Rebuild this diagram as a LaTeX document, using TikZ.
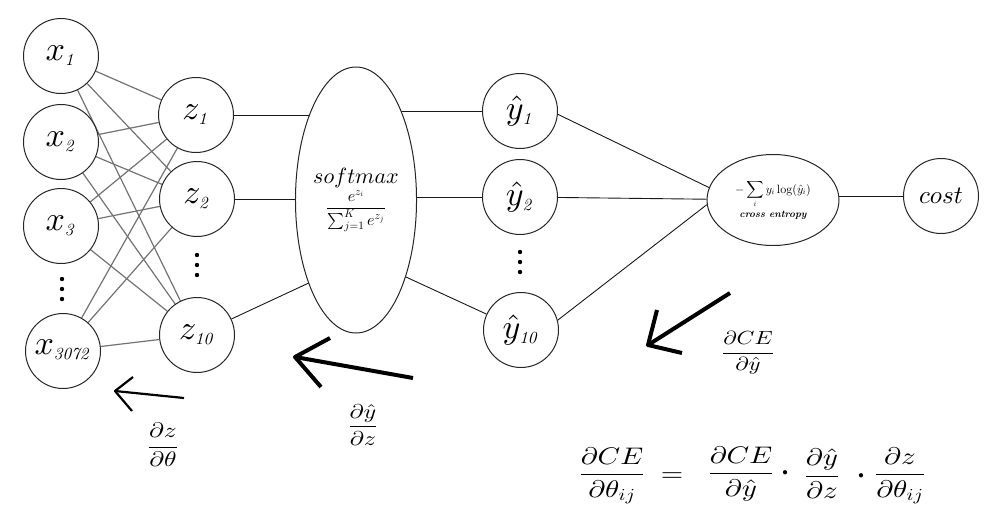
\RequirePackage{fix-cm}
\documentclass[tikz,border=0pt]{standalone}
\usepackage{amsmath}
\DeclareFontShape{OML}{cmm}{m}{it}{<->cmmi10}{}
\DeclareFontShape{OML}{cmm}{b}{it}{<->cmmib10}{}
\DeclareFontShape{OMS}{cmsy}{m}{n}{<->cmsy10}{}
\DeclareFontShape{OMX}{cmex}{m}{n}{<->cmex10}{}
\DeclareFontShape{OT1}{cmr}{m}{n}{<->cmr10}{}
\DeclareFontShape{OT1}{cmr}{m}{it}{<->cmti10}{}
\usetikzlibrary{shapes.geometric,calc}
\pgfdeclarelayer{bg}
\pgfsetlayers{bg,main}
\newcommand{\nfont}{\fontsize{34}{34}\selectfont}
\newcommand{\stretchx}[1]{\scalebox{1.2}[1]{#1}}
\tikzset{
  neuron/.style={draw=black!85, circle, minimum size=75pt, inner sep=0pt, fill=white, line width=1pt},
  oval/.style={draw=black!85, ellipse, inner sep=0pt, fill=white, line width=1pt, align=center},
  wgt/.style={draw=black!55, line width=1.2pt},
  edge/.style={draw=black!90, line width=0.9pt},
  bigarr/.style={draw=black, line width=4pt, line join=round},
  smallarr/.style={draw=black, line width=2.2pt, line join=round},
  lab/.style={inner sep=0pt},
  dotfill/.style={fill=black}
}
\begin{document}
\begin{tikzpicture}[x=1pt,y=-1pt]
\useasboundingbox (0,0) rectangle (1000,528);
% input layer
\node[neuron] (x1) at (61,56) {\nfont$x_{\scriptscriptstyle\mathit{1}}$};
\node[neuron] (x2) at (61,142) {\nfont$x_{\scriptscriptstyle\mathit{2}}$};
\node[neuron] (x3) at (61,226) {\nfont$x_{\scriptscriptstyle\mathit{3}}$};
\node[neuron] (x4) at (63,351) {\nfont$x_{\scriptscriptstyle\mathit{3072}}$};
\coordinate (xd) at (62,289);
% hidden
\node[neuron] (z1) at (196,115) {\nfont$z_{\scriptscriptstyle\mathit{1}}$};
\node[neuron] (z2) at (197,199) {\nfont$z_{\scriptscriptstyle\mathit{2}}$};
\node[neuron] (z3) at (197,335) {\nfont$z_{\scriptscriptstyle\mathit{10}}$};
\coordinate (zd) at (197,265);
% softmax
\node[oval, minimum width=105pt, minimum height=266pt] (sm) at (356,200)
  {{\fontsize{22}{24}\selectfont$softmax$}\\[2pt]
   {\fontsize{16}{16}\selectfont$\dfrac{e^{z_i}}{\textstyle\sum_{j=1}^{K} e^{z_j}}$}};
\coordinate (smz) at (356,261);
\coordinate (smy) at (356,254);
% outputs
\node[neuron] (y1) at (520,111) {\nfont$\hat{y}_{\scriptscriptstyle\mathit{1}}$};
\node[neuron] (y2) at (520,197) {\nfont$\hat{y}_{\scriptscriptstyle\mathit{2}}$};
\node[neuron] (y3) at (521,330) {\nfont$\hat{y}_{\scriptscriptstyle\mathit{10}}$};
\coordinate (yd) at (520,262);
% cross entropy
\node[oval, minimum width=132pt, minimum height=91pt] (ce) at (773,200)
  {{\fontsize{12}{14}\selectfont$\displaystyle -\sum_i y_i\log(\hat{y}_i)$}\\[2pt]
   {\fontsize{10}{12}\selectfont\bfseries\itshape cross entropy}};
\node[neuron] (cost) at (941,196) {\fontsize{25}{25}\selectfont$cost$};
% dots
\foreach \c in {xd,zd,yd}{
  \foreach \dy in {-10,0,10}{\fill[dotfill] ($(\c)+(0,\dy)$) circle (2.2pt);}
}
% connectors
\begin{pgfonlayer}{bg}
\foreach \a in {x1,x2,x3,x4}{
  \foreach \b in {z1,z2,z3}{\draw[wgt] (\a) -- (\b);}
}
\draw[edge] (z1) -- (z1 -| sm);
\draw[edge] (z2) -- (z2 -| sm);
\draw[edge] (z3) -- (smz);
\draw[edge] (y1) -- (y1 -| sm);
\draw[edge] (y2) -- (y2 -| sm);
\draw[edge] (smy) -- (y3);
\draw[edge] (y1.-5) -- (ce.169);
\draw[edge] (y2) -- (ce);
\draw[edge] (y3.15) -- (ce.184);
\draw[edge] (cost) -- (cost -| ce);
\end{pgfonlayer}
% backprop arrows
\coordinate (a1t) at (184,398); \coordinate (a1p) at (115,391);
\coordinate (a1u) at (133,377); \coordinate (a1d) at (132,411);
\draw[smallarr] (a1t) -- (a1p);
\draw[smallarr] (a1u) -- (a1p) -- (a1d);
\coordinate (a2t) at (413,378); \coordinate (a2p) at (295,357);
\coordinate (a2u) at (330,338); \coordinate (a2d) at (321,387);
\draw[bigarr] (a2t) -- (a2p);
\draw[bigarr] (a2u) -- (a2p) -- (a2d);
\coordinate (a3t) at (730,293); \coordinate (a3p) at (648,345);
\coordinate (a3u) at (657,310); \coordinate (a3d) at (682,353);
\draw[bigarr] (a3t) -- (a3p);
\draw[bigarr] (a3u) -- (a3p) -- (a3d);
% derivative labels
\node[lab] (d1) at (163,445) {\stretchx{\fontsize{21}{21}\selectfont$\dfrac{\partial z}{\partial\theta}$}};
\node[lab] (d2) at (363,425) {\stretchx{\fontsize{20}{20}\selectfont$\dfrac{\partial \hat{y}}{\partial z}$}};
\node[lab] (d3) at (748,353) {\stretchx{\fontsize{19}{19}\selectfont$\dfrac{\partial CE}{\partial \hat{y}}$}};
% chain rule
\node[lab] (e1) at (612,476) {\stretchx{\fontsize{24}{24}\selectfont$\dfrac{\partial CE}{\partial\theta_{ij}}$}};
\node[lab] (e2) at (672,477) {\stretchx{\fontsize{24}{24}\selectfont$=$}};
\node[lab] (e3) at (741,474) {\stretchx{\fontsize{24}{24}\selectfont$\dfrac{\partial CE}{\partial\hat{y}}$}};
\node[lab] (e4) at (785,473) {\fontsize{11}{11}\selectfont$\bullet$};
\node[lab] (e5) at (822,474) {\stretchx{\fontsize{24}{24}\selectfont$\dfrac{\partial\hat{y}}{\partial z}$}};
\node[lab] (e6) at (861,476) {\fontsize{11}{11}\selectfont$\bullet$};
\node[lab] (e7) at (900,476) {\stretchx{\fontsize{24}{24}\selectfont$\dfrac{\partial z}{\partial\theta_{ij}}$}};
\end{tikzpicture}
\end{document}
